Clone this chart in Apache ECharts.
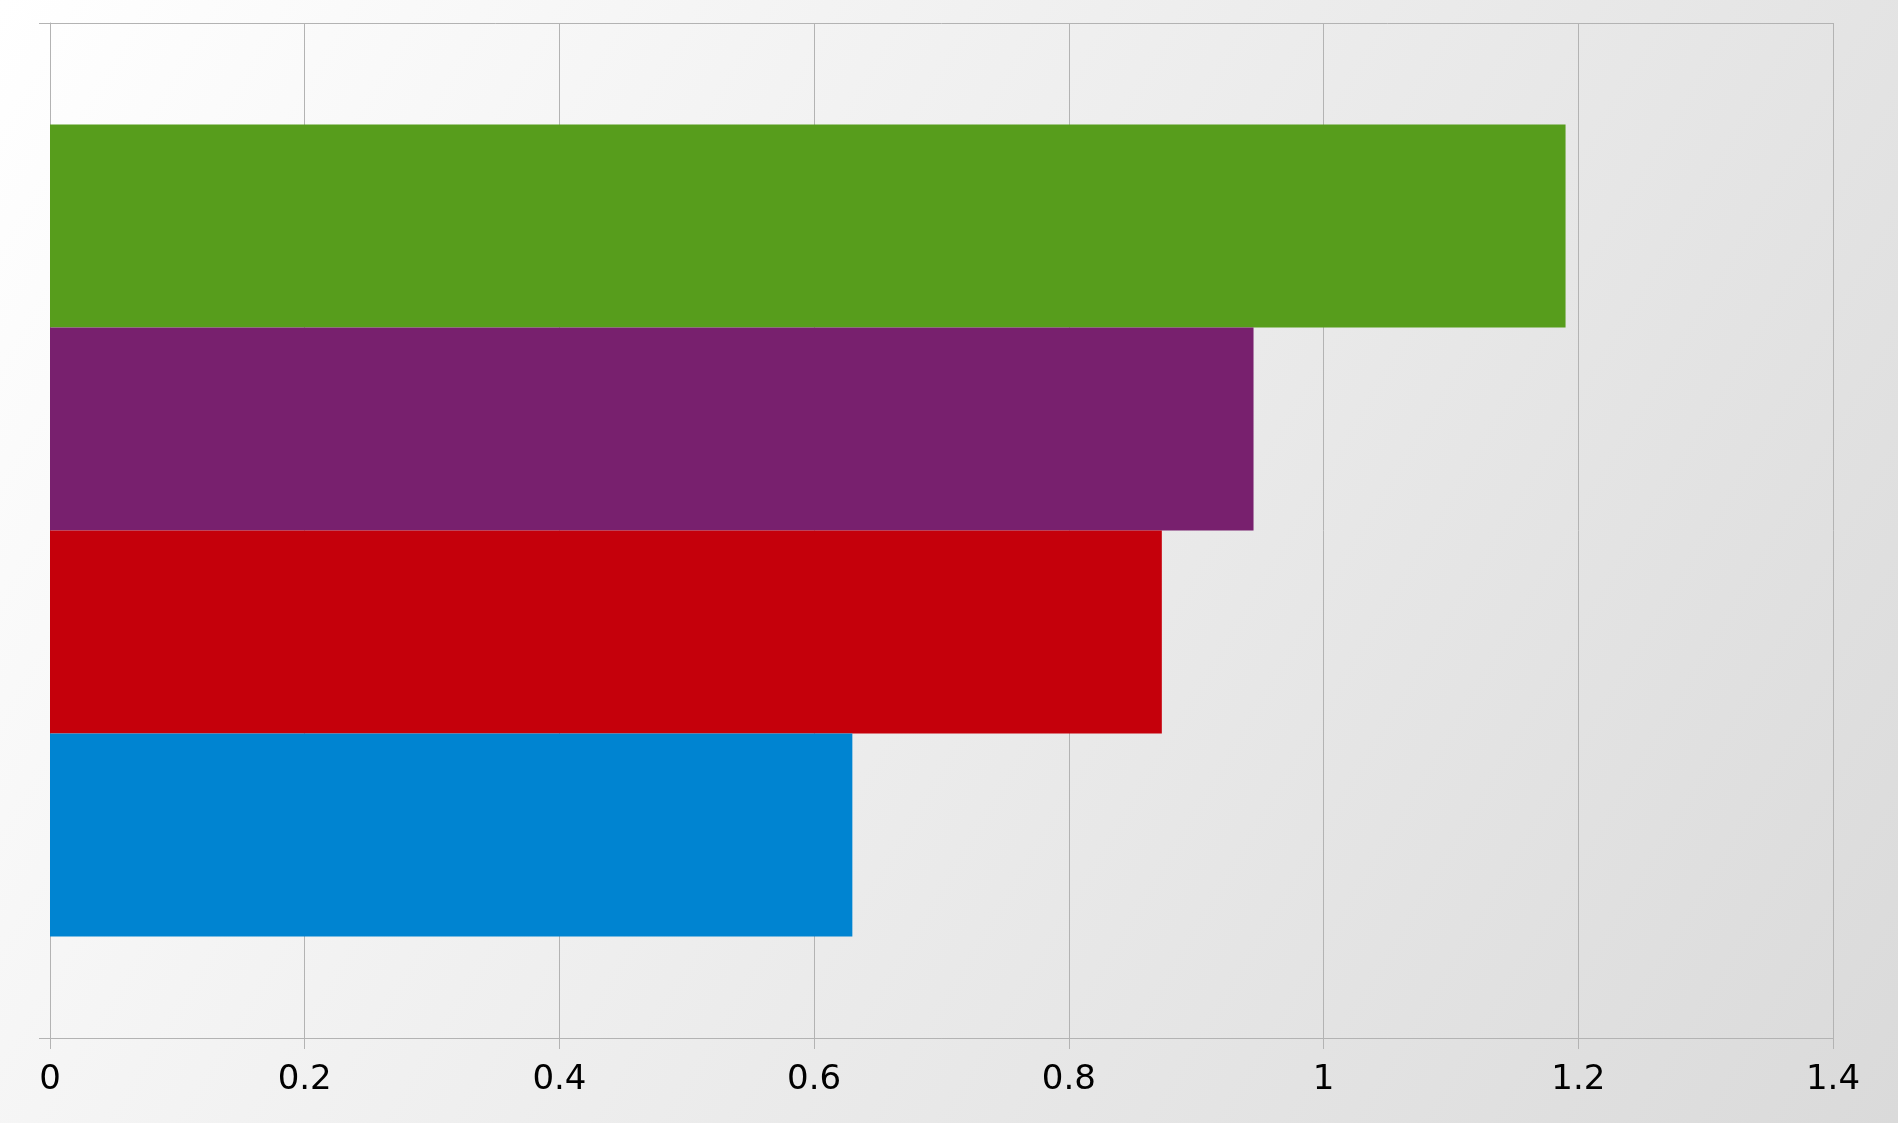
<!DOCTYPE html>
<html>
<head>
<meta charset="utf-8">
<script src="https://cdn.jsdelivr.net/npm/echarts@6/dist/echarts.min.js"></script>
<style>
  html, body { margin: 0; padding: 0; }
  #chart { width: 1898px; height: 1123px; }
</style>
</head>
<body>
<div id="chart"></div>
<script>
// data (listed bottom bar first)
const categories = ['']
const seriesNames = ['Series 1', 'Series 2', 'Series 3', 'Series 4']
const seriesValues = [[0.63], [0.873], [0.945], [1.19]]
const seriesColors = ['#0084d1', '#c5000b', '#78206e', '#579d1c']
const xTicks = [0, 0.2, 0.4, 0.6, 0.8, 1, 1.2, 1.4]

const chart = echarts.init(document.getElementById('chart'))

// echarts stacks horizontal series top-down, so add them in reverse
const series = []
for (let i = seriesNames.length - 1; i >= 0; i--) {
  series.push({
    name: seriesNames[i],
    type: 'bar',
    data: seriesValues[i],
    barGap: 0,
    barCategoryGap: '20%',
    itemStyle: { color: seriesColors[i] }
  })
}

const option = {
  backgroundColor: new echarts.graphic.LinearGradient(0, 0, 1, 1, [
    { offset: 0, color: '#ffffff' },
    { offset: 1, color: '#dadada' }
  ]),
  animation: false,
  grid: {
    left: 50,
    right: 65,
    top: 23,
    bottom: 85,
    containLabel: false
  },
  xAxis: {
    type: 'value',
    min: xTicks[0],
    max: xTicks[xTicks.length - 1],
    interval: 0.2,
    axisLine: { show: true, lineStyle: { color: '#b3b3b3', width: 1 } },
    axisTick: { show: true, length: 11, lineStyle: { color: '#b3b3b3' } },
    axisLabel: {
      color: '#000000',
      fontFamily: 'DejaVu Sans',
      fontSize: 34,
      margin: 25,
      formatter: function (v) { return String(Math.round(v * 10) / 10) }
    },
    splitLine: { show: true, lineStyle: { color: '#b3b3b3', width: 1 } }
  },
  yAxis: {
    type: 'category',
    data: categories,
    axisLine: { show: true, lineStyle: { color: '#b3b3b3', width: 1 } },
    axisTick: { show: true, length: 11, lineStyle: { color: '#b3b3b3' } },
    axisLabel: { show: false },
    splitLine: { show: true, lineStyle: { color: '#b3b3b3', width: 1 } }
  },
  series: series
}

chart.setOption(option)
</script>
</body>
</html>
